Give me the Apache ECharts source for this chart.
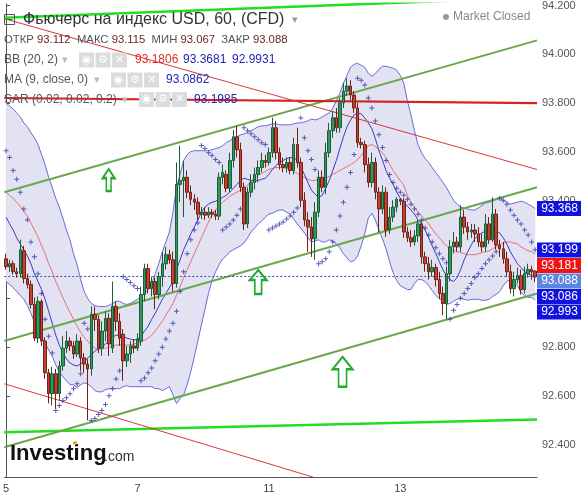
<!DOCTYPE html>
<html><head><meta charset="utf-8">
<script src="https://cdn.jsdelivr.net/npm/echarts@6/dist/echarts.min.js"></script>
<style>html,body{margin:0;padding:0;background:#fff}#c{width:581px;height:497px}</style>
</head><body><div id="c"></div>
<script>
// ---------- DATA (USD index futures, 60 min) ----------
const categories = Array.from({length:150}, (_, i) => String(i));
const dayLabels = [[0,'5'],[37,'7'],[74,'11'],[111,'13']];
const yTicks = [92.4,92.6,92.8,93.0,93.2,93.4,93.6,93.8,94.0,94.2];

const openP = [93.162,93.130,93.142,93.109,93.101,93.195,93.081,93.057,92.975,92.837,
92.988,92.825,92.695,92.610,92.691,92.610,92.723,92.796,92.825,92.805,
92.772,92.825,92.756,92.731,92.711,92.935,92.914,92.796,92.866,92.918,
92.796,92.967,92.906,92.853,92.744,92.772,92.805,92.796,92.825,93.016,
93.122,93.040,93.069,93.016,93.089,93.142,93.179,93.158,93.061,93.467,
93.483,93.496,93.435,93.406,93.394,93.345,93.353,93.341,93.353,93.345,
93.337,93.496,93.508,93.451,93.565,93.662,93.609,93.455,93.305,93.435,
93.475,93.508,93.536,93.565,93.557,93.597,93.699,93.597,93.548,93.536,
93.557,93.524,93.630,93.557,93.402,93.321,93.292,93.244,93.353,93.496,
93.455,93.597,93.687,93.740,93.699,93.801,93.849,93.870,93.833,93.780,
93.638,93.630,93.548,93.475,93.557,93.435,93.366,93.435,93.280,93.333,
93.374,93.406,93.398,93.272,93.248,93.231,93.256,93.305,93.170,93.142,
93.109,93.126,93.077,93.020,92.979,93.101,93.211,93.231,93.211,93.333,
93.292,93.272,93.280,93.264,93.231,93.211,93.305,93.240,93.345,93.219,
93.203,93.162,93.109,93.040,93.077,93.093,93.036,93.101,93.118,93.112];
const closeP = [93.130,93.142,93.109,93.101,93.199,93.081,93.057,92.975,92.837,92.988,
92.825,92.695,92.610,92.691,92.610,92.723,92.796,92.825,92.805,92.772,
92.825,92.756,92.731,92.711,92.935,92.914,92.796,92.866,92.918,92.813,
92.967,92.906,92.837,92.744,92.772,92.805,92.796,92.833,93.016,93.122,
93.040,93.069,93.016,93.089,93.142,93.179,93.158,93.061,93.467,93.483,
93.496,93.435,93.406,93.394,93.345,93.353,93.341,93.353,93.345,93.337,
93.496,93.516,93.451,93.565,93.662,93.609,93.455,93.305,93.435,93.475,
93.508,93.536,93.565,93.557,93.597,93.699,93.597,93.548,93.536,93.557,
93.524,93.630,93.557,93.402,93.321,93.292,93.244,93.353,93.496,93.455,
93.597,93.687,93.740,93.699,93.801,93.849,93.870,93.833,93.780,93.638,
93.630,93.548,93.475,93.557,93.435,93.366,93.435,93.280,93.333,93.374,
93.406,93.398,93.272,93.248,93.231,93.256,93.305,93.170,93.142,93.109,
93.126,93.077,93.020,92.979,93.101,93.211,93.231,93.211,93.333,93.292,
93.272,93.280,93.264,93.231,93.211,93.305,93.240,93.345,93.219,93.203,
93.162,93.109,93.040,93.077,93.093,93.036,93.101,93.118,93.109,93.088];
const lowP = [93.118,93.109,93.097,93.085,93.085,93.061,93.040,92.959,92.825,92.817,
92.805,92.670,92.569,92.561,92.548,92.581,92.703,92.776,92.784,92.752,
92.760,92.703,92.695,92.500,92.683,92.866,92.776,92.764,92.825,92.764,
92.776,92.866,92.805,92.662,92.719,92.735,92.776,92.784,92.805,92.988,
93.020,93.008,92.955,92.996,93.048,93.118,93.142,93.028,93.044,93.394,
93.333,93.410,93.382,93.362,93.321,93.325,93.321,93.329,93.329,93.321,
93.321,93.467,93.435,93.435,93.536,93.577,93.435,93.280,93.288,93.414,
93.447,93.475,93.516,93.536,93.544,93.577,93.569,93.528,93.516,93.516,
93.508,93.508,93.536,93.374,93.296,93.191,93.170,93.158,93.333,93.435,
93.427,93.577,93.658,93.679,93.679,93.780,93.829,93.813,93.760,93.618,
93.614,93.516,93.455,93.455,93.406,93.272,93.345,93.252,93.264,93.313,
93.353,93.382,93.248,93.231,93.211,93.215,93.231,93.142,93.109,93.077,
93.089,93.048,92.996,92.931,92.915,93.069,93.183,93.191,93.191,93.264,
93.240,93.248,93.231,93.211,93.191,93.191,93.223,93.231,93.199,93.170,
93.142,93.089,93.020,93.008,93.061,93.016,93.020,93.085,93.077,93.067];
const highP = [93.183,93.158,93.154,93.126,93.240,93.215,93.101,93.073,93.004,93.008,
92.996,92.841,92.711,92.719,92.711,92.744,92.845,92.866,92.841,92.825,
92.853,92.841,92.776,92.752,92.967,92.967,92.931,92.906,92.947,92.939,
93.069,92.988,92.939,92.874,92.805,92.825,92.833,92.857,93.048,93.142,
93.142,93.089,93.085,93.109,93.191,93.211,93.199,93.191,93.557,93.626,
93.565,93.524,93.463,93.427,93.414,93.374,93.374,93.374,93.366,93.362,
93.516,93.548,93.524,93.597,93.691,93.707,93.638,93.475,93.455,93.508,
93.536,93.565,93.597,93.589,93.618,93.740,93.727,93.618,93.577,93.577,
93.577,93.658,93.699,93.577,93.435,93.353,93.333,93.394,93.524,93.524,
93.638,93.719,93.768,93.780,93.821,93.882,93.902,93.894,93.849,93.801,
93.658,93.646,93.577,93.597,93.577,93.455,93.463,93.455,93.374,93.402,
93.414,93.410,93.410,93.292,93.280,93.280,93.321,93.313,93.191,93.170,
93.158,93.142,93.109,93.048,93.130,93.240,93.272,93.252,93.382,93.362,
93.313,93.305,93.305,93.292,93.264,93.345,93.333,93.414,93.366,93.240,
93.231,93.191,93.138,93.109,93.126,93.118,93.130,93.142,93.134,93.115];

const bbUpper = [93.801,93.788,93.776,93.760,93.744,93.719,93.703,93.679,93.658,93.630,
93.589,93.548,93.496,93.455,93.410,93.374,93.329,93.280,93.240,93.183,
93.138,93.077,93.028,92.999,92.979,92.971,92.967,92.967,92.967,92.971,
92.979,92.988,92.988,92.979,92.975,92.979,92.988,92.996,93.004,93.020,
93.036,93.061,93.101,93.142,93.191,93.231,93.272,93.353,93.455,93.508,
93.565,93.589,93.601,93.605,93.605,93.605,93.605,93.605,93.609,93.614,
93.618,93.626,93.638,93.646,93.654,93.662,93.670,93.674,93.679,93.687,
93.695,93.703,93.707,93.707,93.711,93.715,93.715,93.711,93.711,93.711,
93.711,93.715,93.719,93.719,93.723,93.727,93.735,93.731,93.735,93.744,
93.752,93.760,93.780,93.809,93.841,93.882,93.914,93.947,93.959,93.963,
93.955,93.947,93.922,93.910,93.922,93.939,93.951,93.951,93.947,93.943,
93.935,93.914,93.882,93.809,93.752,93.687,93.630,93.597,93.573,93.557,
93.536,93.516,93.496,93.475,93.455,93.427,93.402,93.386,93.374,93.370,
93.366,93.362,93.362,93.370,93.382,93.390,93.394,93.398,93.406,93.410,
93.402,93.394,93.386,93.390,93.394,93.398,93.394,93.386,93.378,93.368];
const bbMid = [93.435,93.422,93.410,93.394,93.378,93.357,93.337,93.309,93.280,93.252,
93.215,93.183,93.142,93.109,93.069,93.036,93.004,92.971,92.943,92.914,
92.886,92.862,92.841,92.825,92.809,92.796,92.792,92.792,92.796,92.800,
92.805,92.809,92.809,92.809,92.809,92.809,92.813,92.817,92.821,92.829,
92.837,92.849,92.866,92.886,92.906,92.931,92.955,92.979,93.012,93.048,
93.085,93.118,93.150,93.183,93.215,93.248,93.280,93.313,93.341,93.362,
93.378,93.394,93.406,93.418,93.427,93.435,93.443,93.451,93.463,93.479,
93.492,93.504,93.512,93.520,93.528,93.532,93.536,93.536,93.536,93.532,
93.528,93.520,93.512,93.504,93.496,93.488,93.483,93.483,93.488,93.488,
93.492,93.500,93.508,93.516,93.524,93.532,93.540,93.548,93.557,93.569,
93.585,93.605,93.626,93.630,93.622,93.609,93.597,93.577,93.548,93.524,
93.504,93.483,93.463,93.422,93.394,93.374,93.353,93.337,93.321,93.305,
93.284,93.264,93.248,93.231,93.215,93.203,93.195,93.191,93.187,93.183,
93.179,93.179,93.179,93.183,93.187,93.191,93.195,93.203,93.211,93.219,
93.227,93.231,93.231,93.227,93.223,93.211,93.203,93.195,93.191,93.181];
const bbLower = [93.069,93.057,93.044,93.028,93.012,92.996,92.971,92.939,92.902,92.874,
92.841,92.817,92.788,92.764,92.727,92.699,92.679,92.662,92.646,92.646,
92.634,92.646,92.654,92.650,92.638,92.622,92.617,92.617,92.626,92.630,
92.630,92.630,92.630,92.638,92.642,92.638,92.638,92.638,92.638,92.638,
92.638,92.638,92.630,92.630,92.622,92.630,92.638,92.605,92.569,92.589,
92.605,92.646,92.699,92.760,92.825,92.890,92.955,93.020,93.073,93.109,
93.138,93.162,93.174,93.191,93.199,93.207,93.215,93.227,93.248,93.272,
93.288,93.305,93.317,93.333,93.345,93.349,93.357,93.362,93.362,93.353,
93.345,93.325,93.305,93.288,93.268,93.248,93.231,93.235,93.240,93.231,
93.231,93.240,93.235,93.223,93.207,93.183,93.166,93.150,93.154,93.174,
93.215,93.264,93.329,93.349,93.321,93.280,93.244,93.203,93.150,93.105,
93.073,93.052,93.044,93.036,93.036,93.061,93.077,93.077,93.069,93.052,
93.032,93.012,93.000,92.988,92.975,92.979,92.988,92.996,93.000,92.996,
92.992,92.996,92.996,92.996,92.992,92.992,92.996,93.008,93.016,93.028,
93.052,93.069,93.077,93.065,93.052,93.024,93.012,93.004,93.004,92.993];
const ma9 = [93.333,93.305,93.280,93.248,93.223,93.199,93.174,93.142,93.101,93.069,
93.036,92.996,92.947,92.898,92.849,92.809,92.776,92.752,92.735,92.727,
92.723,92.731,92.744,92.756,92.768,92.784,92.792,92.800,92.813,92.825,
92.841,92.849,92.849,92.845,92.837,92.833,92.829,92.833,92.845,92.866,
92.886,92.914,92.939,92.967,92.996,93.020,93.044,93.069,93.118,93.158,
93.199,93.231,93.264,93.292,93.321,93.353,93.374,93.386,93.394,93.398,
93.406,93.414,93.422,93.435,93.451,93.467,93.483,93.492,93.488,93.483,
93.483,93.483,93.488,93.492,93.508,93.528,93.544,93.557,93.565,93.573,
93.577,93.577,93.565,93.540,93.508,93.475,93.443,93.427,93.414,93.422,
93.451,93.483,93.524,93.565,93.614,93.662,93.703,93.731,93.752,93.760,
93.756,93.739,93.719,93.695,93.654,93.605,93.565,93.524,93.492,93.467,
93.435,93.410,93.394,93.378,93.362,93.345,93.321,93.305,93.280,93.248,
93.215,93.183,93.150,93.118,93.093,93.077,93.069,93.085,93.118,93.158,
93.191,93.219,93.244,93.260,93.268,93.276,93.280,93.280,93.276,93.268,
93.248,93.223,93.191,93.166,93.142,93.126,93.109,93.101,93.093,93.086];
const sar = [93.605,93.577,93.524,93.488,93.435,93.366,93.321,93.231,93.170,93.101,
93.020,92.914,92.845,92.776,92.540,92.561,92.581,92.593,92.609,92.630,
92.650,92.691,92.898,92.874,92.500,92.508,92.524,92.540,92.565,92.601,
92.630,92.670,92.703,93.089,93.077,93.065,93.052,93.040,92.662,92.674,
92.695,92.715,92.744,92.772,92.800,92.833,92.866,92.898,92.947,93.028,
93.109,93.183,93.240,93.280,93.309,93.626,93.614,93.597,93.585,93.569,
93.557,93.280,93.292,93.305,93.321,93.341,93.366,93.699,93.687,93.674,
93.662,93.650,93.638,93.630,93.280,93.288,93.296,93.305,93.313,93.325,
93.337,93.353,93.370,93.739,93.658,93.605,93.569,93.528,93.142,93.150,
93.162,93.191,93.231,93.280,93.337,93.394,93.455,93.516,93.589,93.902,
93.894,93.874,93.821,93.780,93.727,93.670,93.618,93.565,93.508,93.475,
93.451,93.435,93.422,93.406,93.386,93.366,93.345,93.321,93.288,93.260,
93.231,93.207,93.183,93.162,93.146,92.914,92.951,92.975,93.000,93.020,
93.040,93.061,93.085,93.101,93.122,93.142,93.158,93.174,93.191,93.410,
93.402,93.386,93.362,93.341,93.321,93.305,93.280,93.260,93.231,93.199];
const lastClose = 93.088;
// drawn trend lines: value at left edge, value at right edge
const channelUpper = [93.435, 94.057];
const channelMid = [92.825, 93.455];
const channelLower = [92.390, 93.020];
const limeTop = [94.150, 94.233];
const limeBottom = [92.451, 92.504];
const redLevel = [93.821, 93.800];
const redUpper = [94.146, 93.528];
const redLower = [92.650, 91.990];
const arrowPoints = [[28.9, 93.485], [71.0, 93.067], [94.75, 92.699]];
// right-edge value tags
const tagValues = [93.3681, 93.1985, 93.1806, 93.088, 93.0862, 92.9931];
const tagTexts = ['93.368','93.199','93.181','93.088','93.086','92.993'];

// ---------- CHART ----------
const chart = echarts.init(document.getElementById('c'), null, {renderer:'canvas'});
const N = categories.length;
const dayMap = new Map(dayLabels);
const candleData = openP.map((o, i) => [o, closeP[i], lowP[i], highP[i]]);
const bandWidth = bbUpper.map((u, i) => +(u - bbLower[i]).toFixed(4));
const FONT = '"Liberation Sans", Arial, sans-serif';

function trend(arr, color, width, extra) {
  return Object.assign({
    type: 'line', xAxisIndex: 1, yAxisIndex: 0, symbol: 'none', silent: true,
    clip: true, z: 4,
    data: [[-0.5, arr[0]], [N - 0.5, arr[1]]],
    lineStyle: {color: color, width: width}
  }, extra || {});
}
const arrowPath = 'path://M10,0 L20,10 L14,10 L14,24 L6,24 L6,10 L0,10 Z';
const arrowSizes = [[12, 22], [17, 24], [20, 30]];

chart.setOption({
  animation: false,
  backgroundColor: '#ffffff',
  grid: {left: 0, right: 44, top: 0, bottom: 20, containLabel: false},
  xAxis: [{
    type: 'category', data: categories, boundaryGap: true,
    axisLine: {lineStyle: {color: '#555', width: 1}},
    axisTick: {show: false},
    axisLabel: {
      interval: (idx) => dayMap.has(idx),
      formatter: (v, idx) => dayMap.get(Number(v)) || '',
      color: '#444', fontSize: 11, fontFamily: FONT, margin: 6
    },
    splitLine: {show: false}
  }, {
    type: 'value', min: -0.5, max: N - 0.5, show: false
  }],
  yAxis: [{
    type: 'value', position: 'right', min: 92.268, max: 94.207, scale: true,
    axisLine: {show: true, lineStyle: {color: '#555', width: 1}},
    axisTick: {show: true, length: 4, lineStyle: {color: '#555'}, customValues: yTicks},
    axisLabel: {color: '#555', fontSize: 11, fontFamily: FONT, margin: 5,
      customValues: yTicks, formatter: (v) => v.toFixed(3)},
    splitLine: {show: false}
  }],
  series: [
    {type: 'line', name: 'bbBase', data: bbLower, stack: 'bb', symbol: 'none', silent: true,
     lineStyle: {opacity: 0}, z: 1},
    {type: 'line', name: 'bbFill', data: bandWidth, stack: 'bb', symbol: 'none', silent: true,
     lineStyle: {opacity: 0}, areaStyle: {color: '#e2e2f2', opacity: 1}, z: 1},
    trend(limeBottom, '#22dd22', 2.5),
    trend(limeTop, '#22dd22', 2.5),
    {type: 'line', name: 'bbUpper', data: bbUpper, symbol: 'none', silent: true,
     lineStyle: {color: '#6a6ad8', width: 1}, z: 2},
    {type: 'line', name: 'bbLower', data: bbLower, symbol: 'none', silent: true,
     lineStyle: {color: '#6a6ad8', width: 1}, z: 2},
    {type: 'line', name: 'bbMid', data: bbMid, symbol: 'none', silent: true,
     lineStyle: {color: '#e07272', width: 1}, z: 2},
    {type: 'line', name: 'ma9', data: ma9, symbol: 'none', silent: true,
     lineStyle: {color: '#3a3ac8', width: 1}, z: 2},
    trend(channelUpper, '#6aa84f', 2),
    trend(channelMid, '#6aa84f', 2),
    trend(channelLower, '#6aa84f', 2, {
      markPoint: {
        silent: true, label: {show: false},
        data: arrowPoints.map((p, i) => ({
          coord: p, symbol: arrowPath, symbolSize: arrowSizes[i],
          itemStyle: {color: 'rgba(255,255,255,0)', borderColor: '#22aa33', borderWidth: 2}
        }))
      }
    }),
    trend(redLevel, '#d42222', 2.2),
    trend(redUpper, '#d83838', 1),
    trend(redLower, '#d83838', 1),
    {type: 'candlestick', name: 'price', data: candleData, barWidth: 3, z: 5, silent: true,
     itemStyle: {color: '#2e9a5c', color0: '#c8412f', borderColor: '#1d5c38', borderColor0: '#6e2217', borderWidth: 1},
     markLine: {silent: true, symbol: 'none', label: {show: false},
       lineStyle: {color: '#3a4fb8', type: [2, 2], width: 1},
       data: [{yAxis: lastClose}]}
    },
    {type: 'scatter', name: 'sar', data: sar, z: 6, silent: true,
     symbol: 'path://M2,0H3V2H5V3H3V5H2V3H0V2H2Z', symbolSize: 5,
     itemStyle: {color: '#3434a8'}}
  ]
});

// ---------- overlays: header legend, logo, value tags ----------
function txt(x, y, text, color, size, weight, align) {
  return {type: 'text', x: x, y: y, z: 100, silent: true,
    style: {text: text, fill: color, font: (weight || 'normal') + ' ' + size + 'px ' + FONT,
      textAlign: align || 'left', textVerticalAlign: 'middle', align: align || 'left', verticalAlign: 'middle'}};
}
function iconBoxes(x0, yc) {
  const els = [];
  const glyphs = ['◉', '⚙', '✕'];
  for (let k = 0; k < 3; k++) {
    const x = x0 + k * 16.5;
    els.push({type: 'rect', z: 100, silent: true, shape: {x: x, y: yc - 7.5, width: 15, height: 15},
      style: {fill: '#dcdcdc'}});
    els.push({type: 'text', z: 101, silent: true, x: x + 7.5, y: yc,
      style: {text: glyphs[k], fill: '#ffffff', font: 'bold 11px "DejaVu Sans", sans-serif',
        textAlign: 'center', textVerticalAlign: 'middle', align: 'center', verticalAlign: 'middle'}});
  }
  return els;
}
const G = [];
// title row
G.push({type: 'rect', z: 100, silent: true, shape: {x: 4.5, y: 14.5, width: 10, height: 10},
  style: {fill: 'none', stroke: '#555', lineWidth: 1}});
G.push({type: 'line', z: 100, silent: true, shape: {x1: 6.5, y1: 19.5, x2: 12.5, y2: 19.5},
  style: {stroke: '#555', lineWidth: 1}});
G.push(txt(23, 20, 'Фьючерс на индекс USD, 60, (CFD)', '#333', 16));
G.push(txt(292, 20, '▾', '#999', 11));
// OHLC row (rich text, labels grey, values dark red)
G.push({type: 'text', x: 4, y: 39.5, z: 100, silent: true,
  style: {
    text: '{l|ОТКР} {v|93.112}  {l|МАКС} {v|93.115}  {l|МИН} {v|93.067}  {l|ЗАКР} {v|93.088}',
    font: '11.3px ' + FONT, textVerticalAlign: 'middle', verticalAlign: 'middle',
    rich: {
      l: {fill: '#555', font: '11.3px ' + FONT},
      v: {fill: '#6a2424', font: '11.3px ' + FONT}
    }
  }});
// BB row
G.push(txt(4, 60, 'BB (20, 2)', '#555', 12));
G.push(txt(62, 60, '▾', '#bbb', 11));
G.push(...iconBoxes(79, 60));
G.push(txt(135, 60, '93.1806', '#e02a2a', 12));
G.push(txt(183, 60, '93.3681', '#2424b0', 12));
G.push(txt(232, 60, '92.9931', '#2424b0', 12));
// MA row
G.push(txt(4, 80, 'MA (9, close, 0)', '#555', 12));
G.push(txt(94, 80, '▾', '#bbb', 11));
G.push(...iconBoxes(111, 80));
G.push(txt(166, 80, '93.0862', '#2424b0', 12));
// SAR row
G.push(txt(4, 99.5, 'SAR (0.02, 0.02, 0.2)', '#555', 12));
G.push(txt(122, 99.5, '▾', '#bbb', 11));
G.push(...iconBoxes(139, 99.5));
G.push(txt(194, 99.5, '93.1985', '#2424b0', 12));
// market closed
G.push({type: 'circle', z: 100, silent: true, shape: {cx: 446, cy: 17, r: 3}, style: {fill: '#999'}});
G.push(txt(453, 17, 'Market Closed', '#888', 12));
// logo
G.push(txt(10, 454, 'Investing', '#111', 22, 'bold'));
G.push(txt(104, 457, '.com', '#333', 14));
G.push({type: 'circle', z: 101, silent: true, shape: {cx: 75, cy: 443, r: 2}, style: {fill: '#f2a31b'}});

// value tags on the right, stacked to avoid overlaps
const tagColors = ['#1212e0', '#1212e0', '#ee1414', '#5b86e0', '#1212e0', '#1212e0'];
let prevY = -1e9;
tagValues.map((v, i) => ({v, i, y: chart.convertToPixel({yAxisIndex: 0}, v)}))
  .sort((a, b) => a.y - b.y)
  .forEach(t => {
    const y = Math.max(t.y, prevY + 15.5);
    prevY = y;
    G.push({type: 'rect', z: 110, silent: true, shape: {x: 537, y: y - 7.5, width: 44, height: 15},
      style: {fill: tagColors[t.i]}});
    G.push({type: 'text', z: 111, silent: true, x: 559.5, y: y,
      style: {text: tagTexts[t.i], fill: '#fff', font: '12px ' + FONT,
        textAlign: 'center', textVerticalAlign: 'middle', align: 'center', verticalAlign: 'middle'}});
  });

chart.setOption({graphic: {elements: G}});
</script>
</body></html>
